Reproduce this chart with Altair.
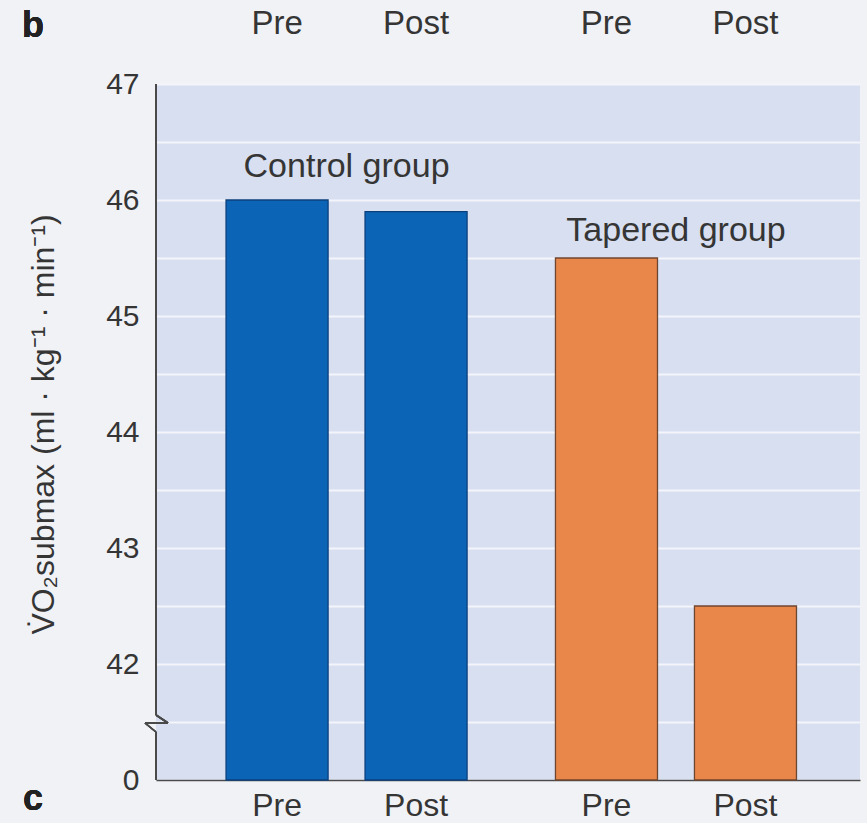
import altair as alt
import pandas as pd

# ---- data ----
groups = ["Control group", "Control group", "Tapered group", "Tapered group"]
phases = ["Pre", "Post", "Pre", "Post"]
values = [46.0, 45.9, 45.5, 42.5]
group_names = ["Control group", "Tapered group"]
y_ticks = [41, 42, 43, 44, 45, 46, 47]
y_tick_labels = ["0", "42", "43", "44", "45", "46", "47"]
grid_step = 0.5
y_axis_title = "V\u0307O\u2082submax (ml \u00b7 kg\u207b\u00b9 \u00b7 min\u207b\u00b9)"

# ---- layout (code, not data) ----
W, H = 704, 696
GROUP_SHIFT = 2.37
HALF = 0.367
XDOM = [-0.871, 4.194]
YDOM = [41, 47]
FONT = "Liberation Sans"
TXT = "#353535"
COL = {"Control group": "#0b64b6", "Tapered group": "#e9874b"}
EDGE = {"Control group": "#0b3f7c", "Tapered group": "#6e4630"}

pos = [group_names.index(g) * GROUP_SHIFT + (0 if p == "Pre" else 1) for g, p in zip(groups, phases)]
df = pd.DataFrame({"group": groups, "phase": phases, "value": values, "pos": pos})
df["x0"] = df["pos"] - HALF
df["x1"] = df["pos"] + HALF
df["fill"] = df["group"].map(COL)
df["edge"] = df["group"].map(EDGE)

n = int(round((YDOM[1] - YDOM[0]) / grid_step))
grid_vals = [YDOM[0] + i * grid_step for i in range(n + 1)]
lab_map = ", ".join(f"'{v}': '{l}'" for v, l in zip(y_ticks, y_tick_labels))
label_expr = f"({{{lab_map}}})[toString(datum.value)] || ''"

xs = alt.Scale(domain=XDOM, nice=False, zero=False)
ys = alt.Scale(domain=YDOM, nice=False, zero=False)

base = alt.Chart(df)

bars = base.mark_bar(strokeWidth=1.3).encode(
    x=alt.X("x0:Q", scale=xs, axis=alt.Axis(labels=False, ticks=False, grid=False, title=None,
                                             domainColor="#4a4a4a", domainWidth=1.6)),
    x2="x1:Q",
    y=alt.Y("value:Q", scale=ys, axis=alt.Axis(
        values=grid_vals, labelExpr=label_expr, ticks=False, domain=False,
        grid=True, gridColor="#f3f5fb", gridWidth=2.2,
        labelFont=FONT, labelFontSize=30, labelColor=TXT, labelPadding=17,
        title=y_axis_title, titleFont=FONT, titleFontSize=32, titleFontWeight="normal",
        titleColor=TXT, titleAngle=-90, titleX=-113, titleY=H / 2 - 8,
        titleAlign="center", titleBaseline="middle")),
    y2=alt.datum(41),
    fill=alt.Fill("fill:N", scale=None),
    stroke=alt.Stroke("edge:N", scale=None),
)

bottom_labels = base.mark_text(font=FONT, fontSize=32, color=TXT, baseline="alphabetic").encode(
    x="pos:Q", y=alt.value(H + 36), text="phase:N")
top_labels = base.mark_text(font=FONT, fontSize=33, color=TXT, baseline="alphabetic").encode(
    x="pos:Q", y=alt.value(-50), text="phase:N")

gdf = df.groupby("group", as_index=False).agg(pos=("pos", "mean"), top=("value", "max"))
gdf["ly"] = gdf["top"] + [0.2, 0.15]
group_labels = alt.Chart(gdf).mark_text(font=FONT, fontSize=34, color=TXT, baseline="alphabetic").encode(
    x="pos:Q", y=alt.Y("ly:Q", scale=ys), text="group:N")

# y axis line with a break (zigzag) just below 42
axis_col = "#4a4a4a"
seg = dict(color=axis_col, strokeWidth=1.6)
brk_top = 631
axis_line = alt.layer(
    alt.Chart(df).mark_rule(**seg).encode(x=alt.value(0), y=alt.value(0), y2=alt.value(brk_top)),
    alt.Chart(df).mark_rule(**seg).encode(x=alt.value(0), x2=alt.value(12), y=alt.value(brk_top), y2=alt.value(brk_top + 8)),
    alt.Chart(df).mark_rule(**seg).encode(x=alt.value(-11), x2=alt.value(12), y=alt.value(brk_top + 8), y2=alt.value(brk_top + 8)),
    alt.Chart(df).mark_rule(**seg).encode(x=alt.value(-11), x2=alt.value(0), y=alt.value(brk_top + 8), y2=alt.value(brk_top + 17)),
    alt.Chart(df).mark_rule(**seg).encode(x=alt.value(0), y=alt.value(brk_top + 17), y2=alt.value(H)),
)

panel_b = alt.Chart(df).mark_text(font=FONT, fontSize=36, fontWeight="bold", color="#222", baseline="alphabetic").encode(
    x=alt.value(-123), y=alt.value(-47), text=alt.value("b"))
panel_c = alt.Chart(df).mark_text(font=FONT, fontSize=36, fontWeight="bold", color="#222", baseline="alphabetic").encode(
    x=alt.value(-123), y=alt.value(H + 30), text=alt.value("c"))

chart = alt.layer(bars, group_labels, bottom_labels, top_labels, axis_line, panel_b, panel_c).properties(
    width=W, height=H,
    autosize=alt.AutoSizeParams(type="none"),
    padding={"left": 156, "top": 84, "right": 7, "bottom": 43},
    background="#f1f2f5",
).configure_view(fill="#d7dff1", stroke=None)

chart.save("out.html", embed_options={"renderer": "svg", "actions": False})
